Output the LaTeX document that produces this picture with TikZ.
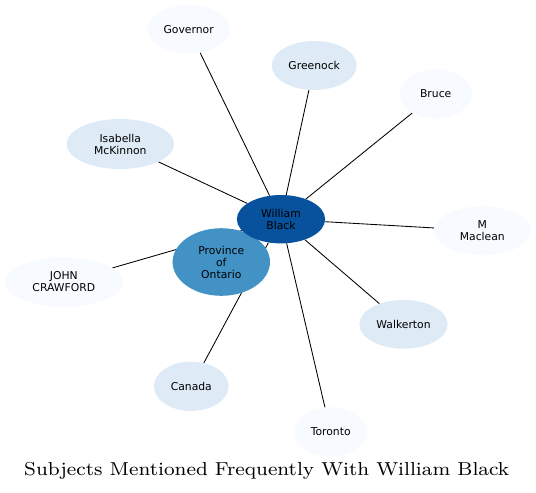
\documentclass[tikz,border=0pt]{standalone}
\usepackage{fontspec}
\usetikzlibrary{shapes.geometric}
\newfontfamily\nodefont{DejaVu Sans}
\definecolor{bdark}{HTML}{08519C}
\definecolor{bmid}{HTML}{4292C6}
\definecolor{blight}{HTML}{DEEBF7}
\definecolor{bpale}{HTML}{F7FBFF}
\pgfdeclarelayer{background}
\pgfsetlayers{background,main}
\tikzset{
  ent/.style={ellipse, inner sep=0pt, draw=none, align=center,
    font=\nodefont\fontsize{10.8}{12}\selectfont, text=black},
  edge/.style={draw=black, line width=0.85pt},
}
\begin{document}
\begin{tikzpicture}[x=1pt, y=-1pt]
\useasboundingbox (0,0) rectangle (536,493);
% nodes
\node[ent, fill=bpale, minimum width=82.6pt, minimum height=48.4pt] (gov) at (188.7,29.2) {Governor};
\node[ent, fill=blight, minimum width=85pt, minimum height=49pt] (gre) at (314.2,65.5) {Greenock};
\node[ent, fill=bpale, minimum width=72.6pt, minimum height=49pt] (bru) at (435.7,94) {Bruce};
\node[ent, fill=blight, minimum width=107.4pt, minimum height=50pt] (isa) at (120.3,144) {Isabella\\McKinnon};
\node[ent, fill=bpale, minimum width=96.6pt, minimum height=49pt] (mac) at (482.3,230.7) {M\\Maclean};
\node[ent, fill=bmid, minimum width=97.4pt, minimum height=67.6pt] (pro) at (221.3,262) {Province\\of\\Ontario};
\node[ent, fill=bdark, minimum width=88.3pt, minimum height=48.4pt] (wb) at (281,219.2) {William\\Black};
\node[ent, fill=bpale, minimum width=117.6pt, minimum height=49.4pt] (joh) at (63.8,282) {JOHN\\CRAWFORD};
\node[ent, fill=blight, minimum width=88.4pt, minimum height=48.7pt] (wal) at (403.5,324.3) {Walkerton};
\node[ent, fill=blight, minimum width=74.7pt, minimum height=49.3pt] (can) at (191.3,386.3) {Canada};
\node[ent, fill=bpale, minimum width=73.3pt, minimum height=49.4pt] (tor) at (330.7,432) {Toronto};
% edges (under the nodes)
\begin{pgfonlayer}{background}
\draw[edge] (wb) -- (gov);
\draw[edge] (wb) -- (gre);
\draw[edge] (wb) -- (bru);
\draw[edge] (wb) -- (isa);
\draw[edge] (wb) -- (mac);
\draw[edge] (wb) -- (wal);
\draw[edge] (wb) -- (tor);
\draw[edge] (wb) -- (pro);
\draw[edge] (wb) -- (joh);
\draw[edge] (wb) -- (can);
\end{pgfonlayer}
% title
\node[anchor=base west, inner sep=0pt] (title) at (24,475.7)
  {\resizebox{485pt}{13.2pt}{\fontsize{8}{10}\selectfont Subjects Mentioned Frequently With William Black}};
\end{tikzpicture}
\end{document}
